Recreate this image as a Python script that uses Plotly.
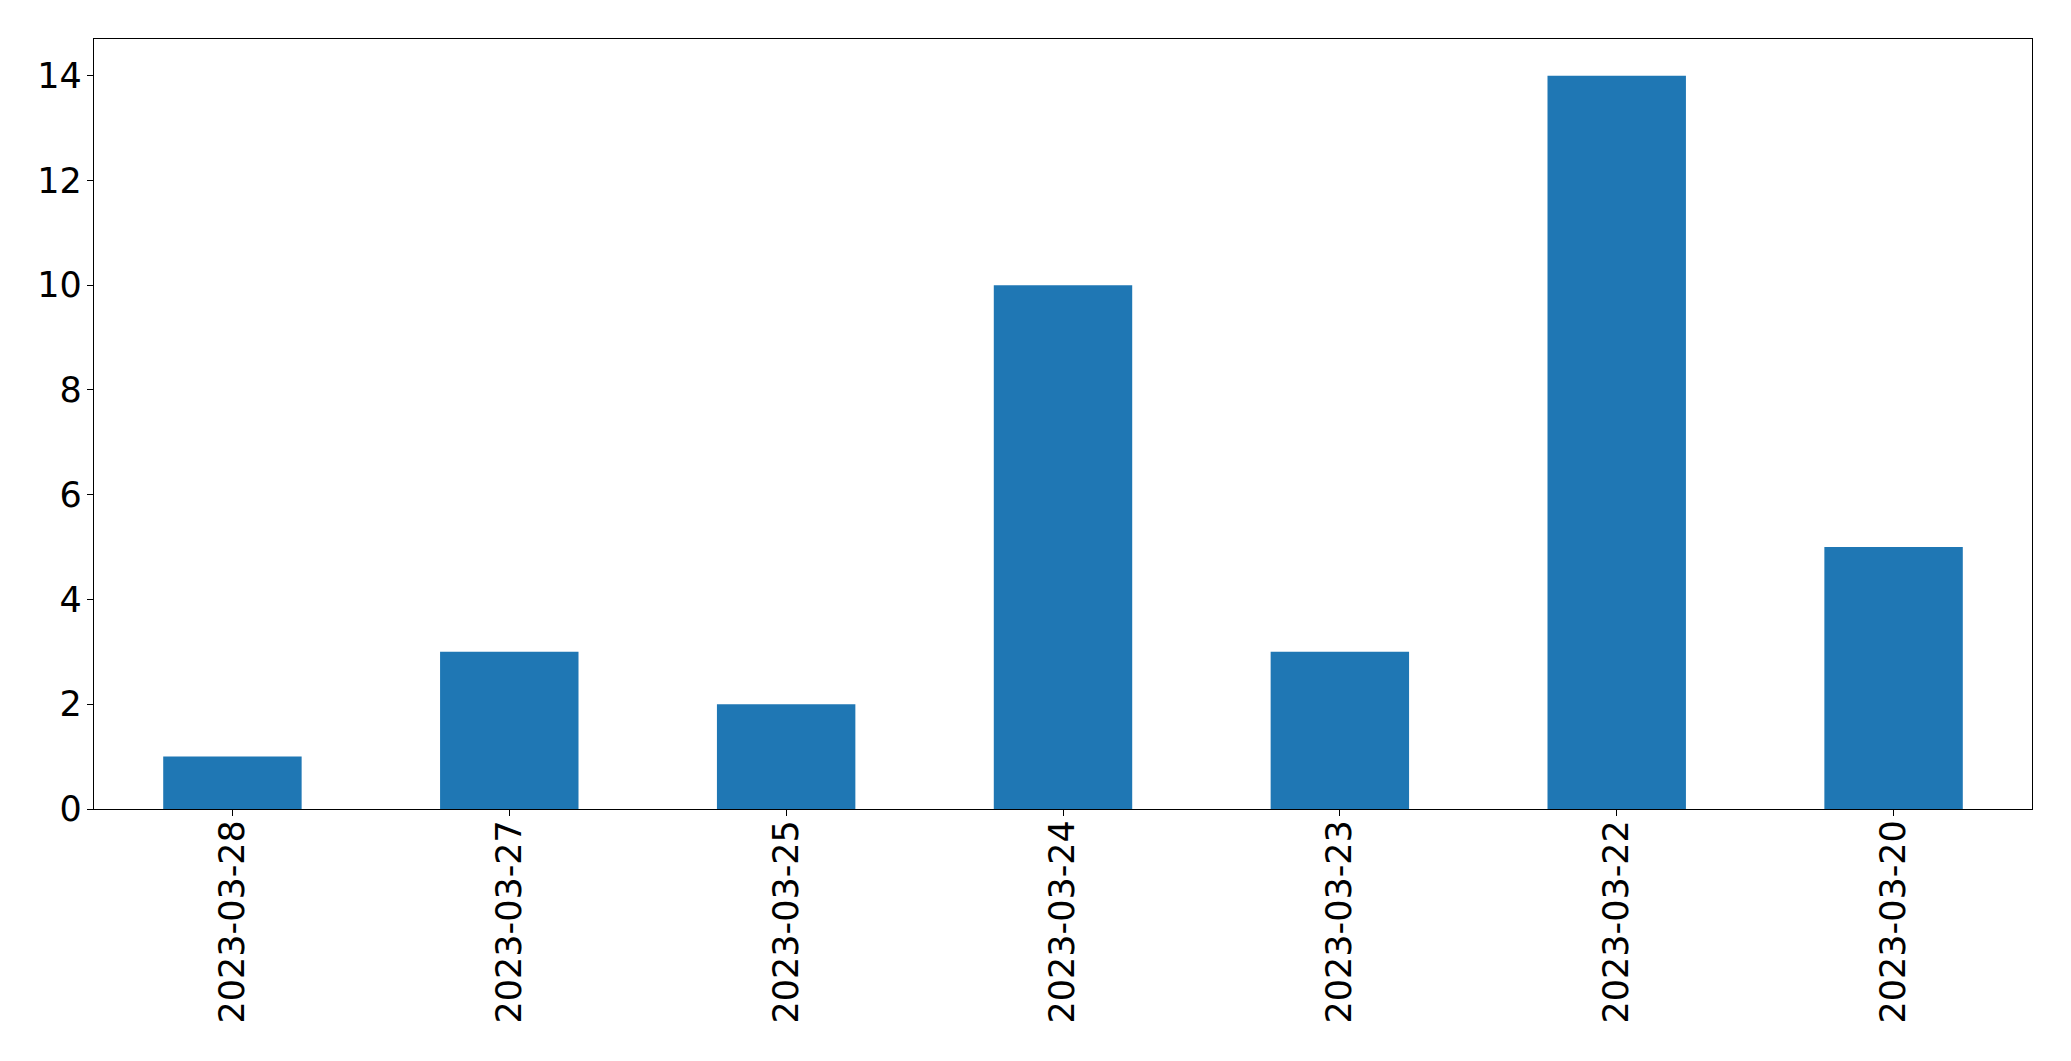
import plotly.graph_objects as go

dates = ["2023-03-28", "2023-03-27", "2023-03-25", "2023-03-24", "2023-03-23", "2023-03-22", "2023-03-20"]
counts = [1, 3, 2, 10, 3, 14, 5]
y_ticks = [0, 2, 4, 6, 8, 10, 12, 14]

fig = go.Figure(
    go.Bar(x=dates, y=counts, marker_color="#1f77b4", marker_line_width=0, width=0.5)
)

axis_common = dict(
    showline=True,
    linecolor="black",
    linewidth=1.3,
    mirror=True,
    ticks="outside",
    ticklen=6,
    tickwidth=1.3,
    tickcolor="black",
    showgrid=False,
    zeroline=False,
    automargin=False,
    tickfont=dict(family="DejaVu Sans", size=35, color="black"),
)

fig.update_layout(
    width=2063,
    height=1053,
    margin=dict(l=86, r=39, t=31, b=252),
    paper_bgcolor="white",
    plot_bgcolor="white",
    showlegend=False,
    bargap=0.5,
    xaxis=dict(type="category", range=[-0.5, 6.5], tickangle=-90,
               ticklabelstandoff=-10, **axis_common),
    yaxis=dict(range=[0, 14.7], tickvals=y_ticks, ticklabelstandoff=-2, **axis_common),
)

fig.write_html("out.html")
